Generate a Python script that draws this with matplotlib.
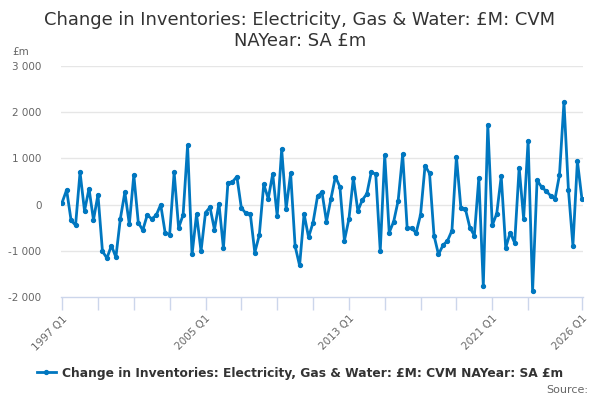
import numpy as np
import matplotlib
matplotlib.use('Agg')
import matplotlib.pyplot as plt
from matplotlib.ticker import FuncFormatter

# quarterly series, 1997 Q1 .. 2026 Q1
start_year = 1997
values = [
    45, 317, -340, -447, 700, -137, 346, -331, 216, -1009,
    -1160, -886, -1138, -303, 267, -425, 641, -389, -555, -223,
    -310, -230, 0, -612, -648, 700, -504, -223, 1282, -1080,
    -209, -1009, -173, -58, -540, 22, -944, 468, 490, 605,
    -72, -187, -202, -1037, -663, 439, 130, 663, -245, 1196,
    -86, 677, -900, -1318, -202, -706, -389, 180, 267, -367,
    130, 605, 382, -778, -317, 576, -137, 101, 231, 706,
    656, -1001, 1073, -605, -367, 86, 1088, -497, -512, -612,
    -216, 843, 677, -670, -1080, -879, -785, -562, 1037, -79,
    -94, -497, -670, 576, -1765, 1729, -447, -195, 612, -937,
    -605, -829, 800, -303, 1383, -1873, 526, 382, 295, 195,
    122, 641, 2219, 317, -886, 944, 130,
]
labels = [f'{start_year + i // 4} Q{i % 4 + 1}' for i in range(len(values))]
tick_pos = list(range(0, 105, 8)) + [len(values) - 1]
label_pos = [0, 32, 64, 96, len(values) - 1]
y_ticks = [-2000, -1000, 0, 1000, 2000, 3000]

title = 'Change in Inventories: Electricity, Gas & Water: £M: CVM\nNAYear: SA £m'
series_name = 'Change in Inventories: Electricity, Gas & Water: £M: CVM NAYear: SA £m'

line_col = '#0077c0'
grid_col = '#e6e6e6'
axis_col = '#ccd6eb'
text_col = '#666666'

fig = plt.figure(figsize=(6, 4), dpi=100)
ax = fig.add_axes([61 / 600, 1 - 297 / 400, 522 / 600, 231 / 400])

x = np.arange(len(values))
line, = ax.plot(x, values, color=line_col, lw=2, marker='o', ms=2.8,
                label=series_name, zorder=3)

ax.set_xlim(-0.25, len(values) - 0.75)
ax.set_ylim(-2000, 3000)
ax.set_yticks(y_ticks)
ax.yaxis.set_major_formatter(FuncFormatter(lambda v, p: f'{int(v):,}'.replace(',', ' ')))
for v in y_ticks[1:]:
    ax.axhline(v, color=grid_col, lw=1, zorder=1)

ax.set_xticks(tick_pos)
ax.set_xticklabels([labels[i] if i in label_pos else '' for i in tick_pos],
                   rotation=45, ha='right', rotation_mode='anchor')
ax.tick_params(axis='x', length=9, color=axis_col, width=1, labelsize=7.5,
               labelcolor=text_col, pad=3)
ax.tick_params(axis='y', length=0, labelsize=7.5, labelcolor=text_col, pad=14)

for s in ['top', 'right', 'left']:
    ax.spines[s].set_visible(False)
ax.spines['bottom'].set_color(axis_col)
ax.spines['bottom'].set_linewidth(1)

fig.text(0.5, 0.972, title, ha='center', va='top', fontsize=12.9,
         color='#333333', linespacing=1.2)
fig.text(12 / 600, 1 - 52 / 400, '£m', ha='left', va='center', fontsize=7.5,
         color=text_col)

leg = fig.legend(handles=[line], loc='center', bbox_to_anchor=(0.5, 1 - 373 / 400),
                 frameon=False, handlelength=1.6, handletextpad=0.5,
                 prop={'weight': 'bold', 'size': 8.85})
for t in leg.get_texts():
    t.set_color('#333333')

fig.text(588 / 600, 1 - 390 / 400, 'Source:', ha='right', va='center',
         fontsize=8, color=text_col)

fig.savefig('out.png', dpi=100)
